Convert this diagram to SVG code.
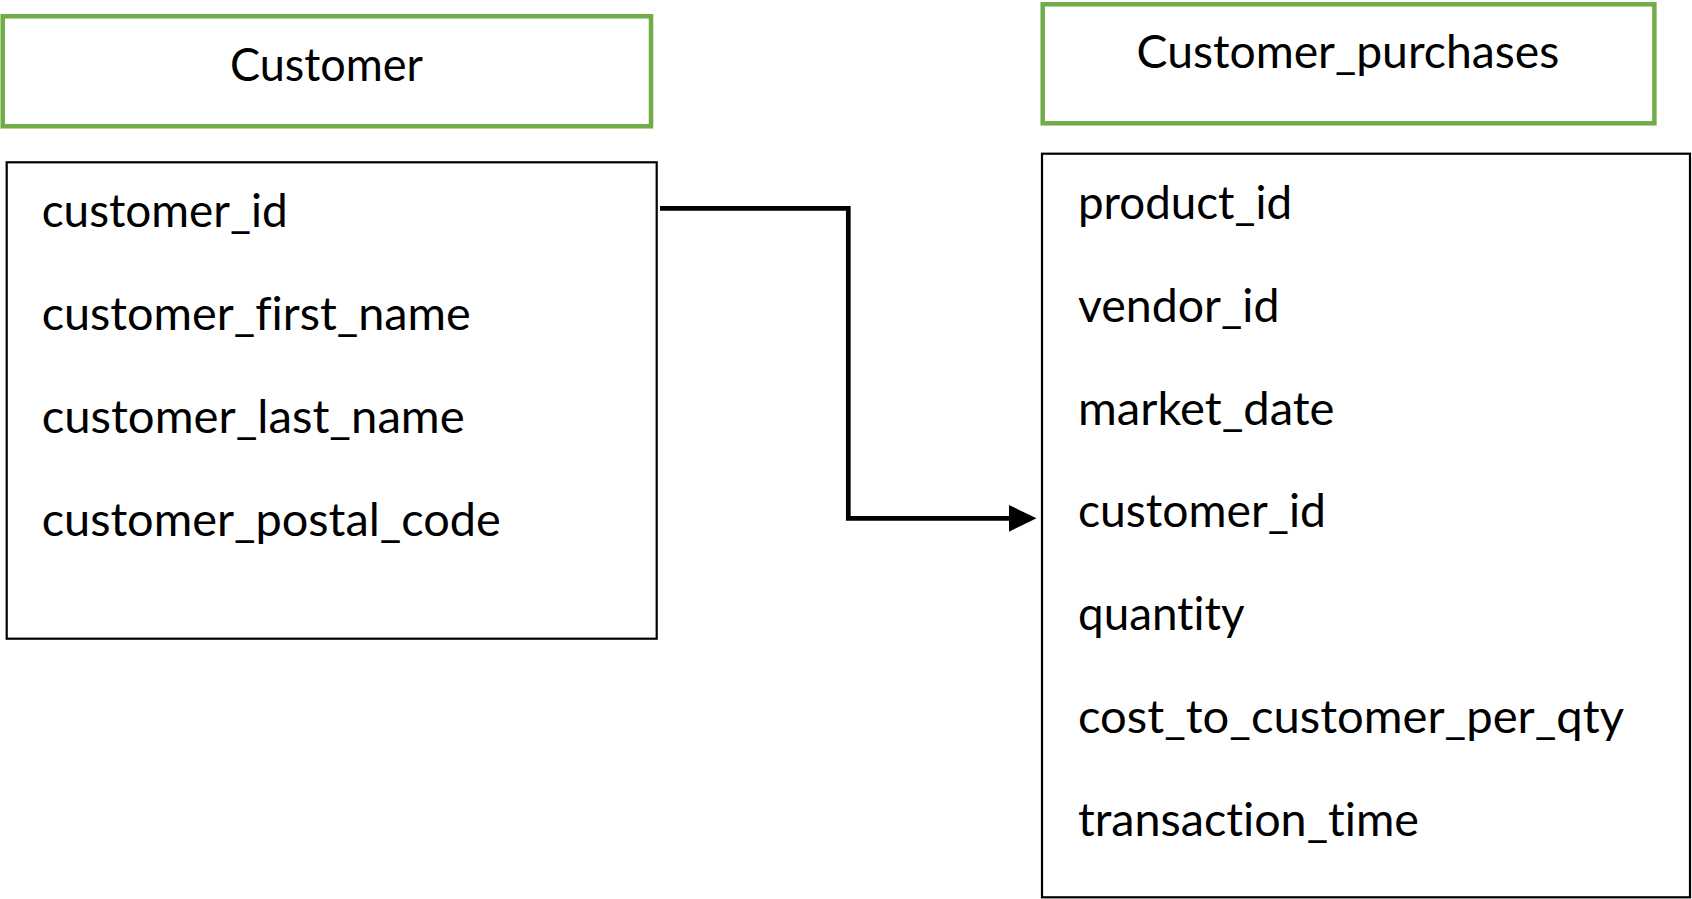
<svg xmlns="http://www.w3.org/2000/svg" width="1692" height="899" viewBox="0 0 1692 899">
  <style>
    .title-box { fill: #ffffff; stroke: #70ad47; stroke-width: 4.5; }
    .table-box { fill: #ffffff; stroke: #000000; stroke-width: 2.2; }
    .label { font-family: Lato, "Open Sans", "Liberation Sans", sans-serif; font-size: 46px; fill: #000000; font-variant-ligatures: none; font-feature-settings: "liga" 0, "clig" 0; }
    .link { fill: none; stroke: #000000; stroke-width: 4.7; stroke-linejoin: miter; }
  </style>
  <rect width="1692" height="899" fill="#ffffff"/>

  <!-- Customer table -->
  <g id="customer-title">
    <rect class="title-box" x="2.7" y="16.3" width="648.3" height="110"/>
    <text class="label" x="230" y="81" textLength="193" lengthAdjust="spacingAndGlyphs">Customer</text>
  </g>
  <g id="customer-table">
    <rect class="table-box" x="6.7" y="162.3" width="650" height="476.4"/>
    <text class="label" x="41.7" y="227" textLength="246" lengthAdjust="spacingAndGlyphs">customer_id</text>
    <text class="label" x="41.7" y="330" textLength="429" lengthAdjust="spacingAndGlyphs">customer_first_name</text>
    <text class="label" x="41.7" y="433" textLength="423" lengthAdjust="spacingAndGlyphs">customer_last_name</text>
    <text class="label" x="41.7" y="535.5" textLength="459" lengthAdjust="spacingAndGlyphs">customer_postal_code</text>
  </g>

  <!-- Customer_purchases table -->
  <g id="purchases-title">
    <rect class="title-box" x="1042.7" y="4.3" width="611.7" height="119"/>
    <text class="label" x="1136.6" y="67.7" textLength="422.6" lengthAdjust="spacingAndGlyphs">Customer_purchases</text>
  </g>
  <g id="purchases-table">
    <rect class="table-box" x="1042" y="153.7" width="648" height="743.6"/>
    <text class="label" x="1078" y="218.7" textLength="214" lengthAdjust="spacingAndGlyphs">product_id</text>
    <text class="label" x="1078" y="321.6" textLength="201.5" lengthAdjust="spacingAndGlyphs">vendor_id</text>
    <text class="label" x="1078" y="424.5" textLength="256.5" lengthAdjust="spacingAndGlyphs">market_date</text>
    <text class="label" x="1078" y="527.4" textLength="248" lengthAdjust="spacingAndGlyphs">customer_id</text>
    <text class="label" x="1078" y="630.3" textLength="166.5" lengthAdjust="spacingAndGlyphs">quantity</text>
    <text class="label" x="1078" y="733.2" textLength="546" lengthAdjust="spacingAndGlyphs">cost_to_customer_per_qty</text>
    <text class="label" x="1078" y="836.1" textLength="341" lengthAdjust="spacingAndGlyphs">transaction_time</text>
  </g>

  <!-- Foreign key link: customer_id -> customer_id -->
  <g id="connectors">
    <path class="link" d="M660,208.3 H848.3 V518.3 H1012"/>
    <polygon points="1009,505 1036.5,518.3 1009,531.7" fill="#000000"/>
  </g>
</svg>
